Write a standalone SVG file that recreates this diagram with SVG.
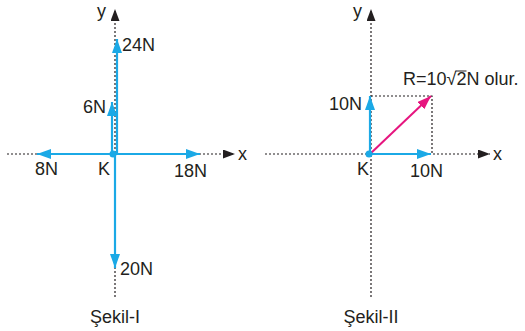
<svg xmlns="http://www.w3.org/2000/svg" width="525" height="331" viewBox="0 0 525 331">
<style>
text{font-family:"Liberation Sans",Arial,sans-serif;font-size:18px;fill:#231f20}
.ax{stroke:#231f20;stroke-width:1.2;stroke-dasharray:2,2;fill:none}
.bl{stroke:#1ba9e6;stroke-width:2.2;fill:none}
.mg{stroke:#e6157f;stroke-width:2;fill:none}
.dot{fill:#1ba9e6}
</style>
<defs>
<marker id="ab" markerUnits="userSpaceOnUse" markerWidth="14" markerHeight="10" refX="14" refY="5" orient="auto"><path d="M0,0L14,5L0,10z" fill="#1ba9e6"/></marker>
<marker id="ak" markerUnits="userSpaceOnUse" markerWidth="12" markerHeight="9" refX="12" refY="4.5" orient="auto"><path d="M0,0L12,4.5L0,9z" fill="#231f20"/></marker>
<marker id="am" markerUnits="userSpaceOnUse" markerWidth="14" markerHeight="10" refX="14" refY="5" orient="auto"><path d="M0,0L14,5L0,10z" fill="#e6157f"/></marker>
</defs>
<g id="connectors">
<line class="ax" x1="7" y1="154" x2="235" y2="154" marker-end="url(#ak)"/>
<line class="ax" x1="115" y1="297" x2="115" y2="9" marker-end="url(#ak)"/>
<line class="bl" x1="113" y1="154" x2="37" y2="154" marker-end="url(#ab)"/>
<line class="bl" x1="113" y1="154" x2="200" y2="154" marker-end="url(#ab)"/>
<line class="bl" x1="117" y1="154" x2="117" y2="39" marker-end="url(#ab)"/>
<line class="bl" x1="112" y1="154" x2="112" y2="102" marker-end="url(#ab)"/>
<line class="bl" x1="115" y1="154" x2="115" y2="268" marker-end="url(#ab)"/>
<line class="ax" x1="265" y1="154" x2="490" y2="154" marker-end="url(#ak)"/>
<line class="ax" x1="371" y1="297" x2="371" y2="9" marker-end="url(#ak)"/>
<path class="ax" d="M371,96H432V154"/>
<line class="bl" x1="370" y1="154" x2="370" y2="96" marker-end="url(#ab)"/>
<line class="bl" x1="370" y1="154" x2="431" y2="154" marker-end="url(#ab)"/>
<line class="mg" x1="370" y1="154" x2="431" y2="96" marker-end="url(#am)"/>
</g>
<g id="fig1">
<circle class="dot" cx="113" cy="154" r="3.5"/>
<text x="97" y="17">y</text>
<text x="238" y="160">x</text>
<text x="122" y="51">24N</text>
<text x="106" y="113" text-anchor="end">6N</text>
<text x="35" y="175">8N</text>
<text x="98" y="175">K</text>
<text x="174" y="177">18N</text>
<text x="120" y="275">20N</text>
<text x="115" y="323" text-anchor="middle">Şekil-I</text>
</g>
<g id="fig2">
<circle class="dot" cx="369" cy="154" r="3.5"/>
<text x="353" y="17">y</text>
<text x="493" y="160">x</text>
<text x="362" y="110" text-anchor="end">10N</text>
<text x="357" y="175">K</text>
<text x="410" y="177">10N</text>
<text x="403" y="85">R=10√2N olur.</text>
<line x1="455.5" y1="71" x2="466.5" y2="71" stroke="#231f20" stroke-width="1"/>
<text x="371" y="323" text-anchor="middle">Şekil-II</text>
</g>
</svg>
